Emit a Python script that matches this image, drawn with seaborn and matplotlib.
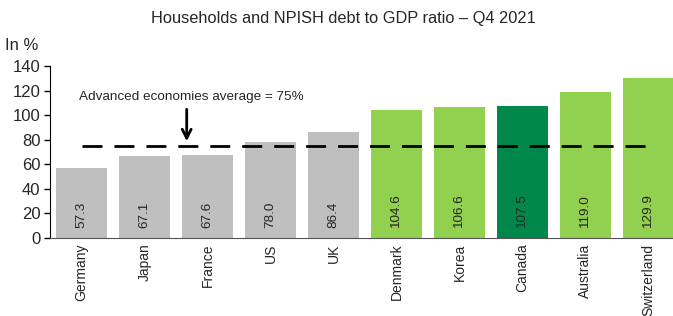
import matplotlib
matplotlib.use('Agg')
import matplotlib.pyplot as plt
import seaborn as sns
import pandas as pd

# data
countries = ['Germany', 'Japan', 'France', 'US', 'UK', 'Denmark', 'Korea', 'Canada', 'Australia', 'Switzerland']
debt_ratio = [57.3, 67.1, 67.6, 78.0, 86.4, 104.6, 106.6, 107.5, 119.0, 129.9]
bar_colors = ['#BFBFBF'] * 5 + ['#92D050', '#92D050', '#00884A', '#92D050', '#92D050']
avg_value = 75
yticks = [0, 20, 40, 60, 80, 100, 120, 140]

sns.set_style('white')
plt.rcParams['font.family'] = ['Liberation Sans', 'DejaVu Sans']

df = pd.DataFrame({'country': countries, 'ratio': debt_ratio})

fig = plt.figure(figsize=(6.73, 3.16), dpi=100)
ax = fig.add_axes([0.0743, 0.247, 0.9257, 0.544])
sns.barplot(data=df, x='country', y='ratio', hue='country', palette=bar_colors,
            width=0.81, legend=False, ax=ax, saturation=1, linewidth=0)

# value labels inside bars
for i, v in enumerate(debt_ratio):
    ax.text(i, 8, f'{v:.1f}', rotation=90, ha='center', va='bottom', fontsize=9.7)

# average line + annotation
ax.plot([0, 9], [avg_value, avg_value], color='black', lw=2, dashes=(7.2, 4.3))
ax.annotate('', xy=(1.67, 76.5), xytext=(1.67, 107),
            arrowprops=dict(arrowstyle='->', color='black', lw=2, mutation_scale=16))
ax.text(1.75, 110, 'Advanced economies average = 75%', ha='center', va='bottom', fontsize=9.7)

ax.set_xlim(-0.5, 9.39)
ax.set_ylim(0, 140)
ax.set_yticks(yticks)
ax.tick_params(axis='y', labelsize=12, length=4, width=1, left=True, color='black', pad=3)
ax.tick_params(axis='x', labelsize=10, rotation=90, length=0, pad=4)
ax.set_xlabel('')
ax.set_ylabel('')
for s in ['top', 'right']:
    ax.spines[s].set_visible(False)
ax.spines['left'].set_color('black')
ax.spines['bottom'].set_color('#555555')

fig.text(0.007, 0.855, 'In %', fontsize=12, ha='left', va='center')
fig.text(0.51, 0.94, 'Households and NPISH debt to GDP ratio \u2013 Q4 2021', fontsize=11.8,
         ha='center', va='center')

fig.savefig('out.png', dpi=100)
